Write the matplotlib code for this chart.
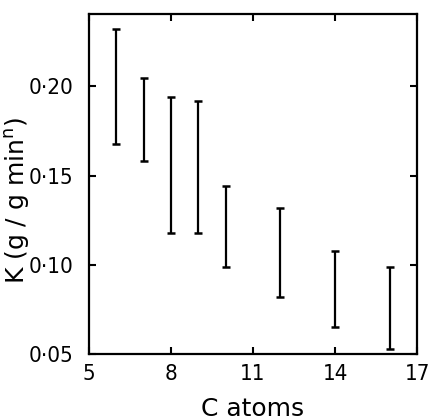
import matplotlib
matplotlib.use('Agg')
import matplotlib.pyplot as plt
import numpy as np

# carbon atoms and the K range (upper / lower end of each bar)
c_atoms = [6, 7, 8, 9, 10, 12, 14, 16]
k_high = [0.232, 0.205, 0.194, 0.192, 0.144, 0.132, 0.108, 0.099]
k_low = [0.168, 0.158, 0.118, 0.118, 0.099, 0.082, 0.065, 0.053]

x_ticks = [5, 8, 11, 14, 17]
x_labels = ['5', '8', '11', '14', '17']
y_ticks = [0.05, 0.10, 0.15, 0.20]
y_labels = ['0·05', '0·10', '0·15', '0·20']

plt.rcParams['font.family'] = ['DejaVu Sans']
plt.rcParams['font.stretch'] = 'condensed'

fig = plt.figure(figsize=(4.3, 4.2), dpi=100)
ax = fig.add_axes([0.207, 0.157, 0.763, 0.810])

mid = (np.array(k_high) + np.array(k_low)) / 2
half = (np.array(k_high) - np.array(k_low)) / 2
ax.errorbar(c_atoms, mid, yerr=half, fmt='none', ecolor='black',
            elinewidth=1.6, capsize=2.6, capthick=1.8)

ax.set_xlim(5, 17)
ax.set_ylim(0.05, 0.2407)
ax.set_xticks(x_ticks)
ax.set_xticklabels(x_labels)
ax.set_yticks(y_ticks)
ax.set_yticklabels(y_labels)

ax.tick_params(direction='in', length=5, width=1.5, top=True, right=True,
               labelsize=16)
ax.tick_params(axis='x', pad=7)
ax.tick_params(axis='y', pad=11)
for s in ax.spines.values():
    s.set_linewidth(1.6)

ax.set_xlabel('C atoms', fontsize=18, fontstretch='normal')
ax.set_ylabel('K (g / g min$^{\\mathregular{n}}$)', fontsize=18,
              fontstretch='normal')
ax.xaxis.set_label_coords(0.5, -0.125)
ax.yaxis.set_label_coords(-0.175, 0.45)

plt.savefig('out.png', dpi=100)
plt.close()
